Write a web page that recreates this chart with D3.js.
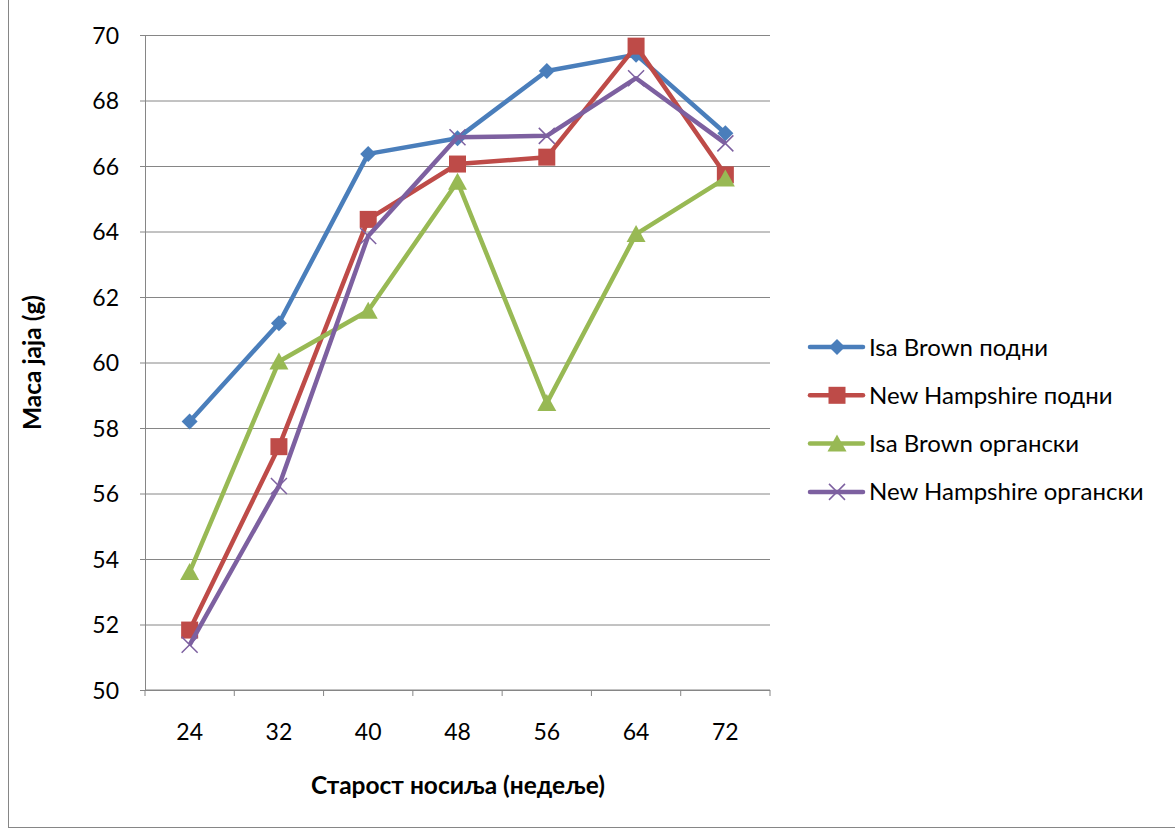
<!DOCTYPE html>
<html><head>
<meta charset="utf-8">
<script src="https://d3js.org/d3.v7.min.js"></script>
<style>
  body { margin: 0; background: #fff; }
  text { font-family: Lato, "Open Sans", sans-serif; fill: #000; }
  .gridlines line { stroke: #868686; }
  .gridlines .domain { stroke: none; }
  .axis path, .axis line { stroke: #868686; }
</style>
</head>
<body>
<svg id="svg1" width="1175" height="828"></svg>
<script>
// data
const weeks = ["24", "32", "40", "48", "56", "64", "72"];
const seriesNames = ["Isa Brown подни", "New Hampshire подни", "Isa Brown органски", "New Hampshire органски"];
const isaFloor = [58.2, 61.2, 66.37, 66.85, 68.9, 69.4, 67.0];
const nhFloor = [51.83, 57.43, 64.37, 66.06, 66.27, 69.66, 65.73];
const isaOrganic = [53.6, 60.03, 61.58, 65.52, 58.76, 63.92, 65.62];
const nhOrganic = [51.38, 56.23, 63.86, 66.88, 66.92, 68.68, 66.69];
const yTicks = [50, 52, 54, 56, 58, 60, 62, 64, 66, 68, 70];
const colors = ["#4A7EBB", "#BE4B48", "#98B954", "#7D60A0"];
const markers = ["diamond", "square", "triangle", "cross"];

let svg1 = d3.select("svg#svg1");
const margins = {top: 35, left: 145, right: 405, bottom: 138};
const chWidth = 1175 - margins.left - margins.right;
const chHeight = 828 - margins.top - margins.bottom;

// outer frame
svg1.append("rect").attr("x", 8.5).attr("y", -2).attr("width", 1180).attr("height", 829.5)
    .attr("fill", "none").attr("stroke", "#868686");

let xScale = d3.scaleBand().domain(weeks).range([0, chWidth]);
let yScale = d3.scaleLinear().domain([50, 70]).range([chHeight, 0]);

let annotations = svg1.append("g");

let leftGrid = d3.axisLeft(yScale).tickValues(yTicks).tickSize(-chWidth).tickFormat("");
annotations.append("g").attr("class", "gridlines")
    .attr("transform", `translate(${margins.left},${margins.top})`)
    .call(leftGrid);

let leftAxis = d3.axisLeft(yScale).tickValues(yTicks).tickSize(5).tickPadding(21);
annotations.append("g").attr("class", "y axis")
    .attr("transform", `translate(${margins.left},${margins.top})`)
    .call(leftAxis)
    .call(g => g.selectAll("text").style("font-size", "23px").style("font-family", "Lato").attr("dy", "0.36em"));

// x axis: ticks sit on band edges
let bottomAxis = d3.axisBottom(xScale).tickSize(0);
let xg = annotations.append("g").attr("class", "x axis")
    .attr("transform", `translate(${margins.left},${margins.top + chHeight})`)
    .call(bottomAxis)
    .call(g => g.selectAll("text").style("font-size", "23px").style("font-family", "Lato")
                 .attr("dy", null).attr("y", 50));
xg.select(".domain").attr("d", `M0,0H${chWidth}`);
xg.selectAll("line.edge").data(d3.range(weeks.length + 1)).join("line").attr("class", "edge")
    .attr("x1", i => i * xScale.step()).attr("x2", i => i * xScale.step())
    .attr("y1", 0).attr("y2", 6).attr("stroke", "#868686");

// axis titles
svg1.append("text")
    .attr("transform", `translate(41,${margins.top + chHeight / 2}) rotate(-90)`)
    .attr("text-anchor", "middle").style("font-weight", "bold").style("font-size", "24.5px")
    .text("Маса jaja (g)");
svg1.append("text")
    .attr("x", margins.left + chWidth / 2 + 0.5).attr("y", 794)
    .attr("text-anchor", "middle").style("font-weight", "bold").style("font-size", "24.5px")
    .text("Старост носиља (недеље)");

const allSeries = [isaFloor, nhFloor, isaOrganic, nhOrganic];

let chartArea = svg1.append("g").attr("transform", `translate(${margins.left},${margins.top})`);
let lineGen = d3.line()
    .x((d, i) => xScale(weeks[i]) + xScale.bandwidth() / 2)
    .y(d => yScale(d));

function drawMarker(sel, kind, color) {
  if (kind === "diamond") {
    sel.append("path").attr("d", "M0,-8L8,0L0,8L-8,0Z").attr("fill", color);
  } else if (kind === "square") {
    sel.append("rect").attr("x", -8.5).attr("y", -8.5).attr("width", 17).attr("height", 17).attr("fill", color);
  } else if (kind === "triangle") {
    sel.append("path").attr("d", "M0,-9L9.5,8L-9.5,8Z").attr("fill", color);
  } else {
    sel.append("path").attr("d", "M-8,-8L8,8M-8,8L8,-8").attr("stroke", color).attr("stroke-width", 1.5).attr("fill", "none");
  }
}

let seriesG = chartArea.selectAll("g.series").data(allSeries).join("g").attr("class", "series");
seriesG.append("path")
    .attr("fill", "none")
    .attr("stroke", (d, i) => colors[i])
    .attr("stroke-width", 4.5)
    .attr("stroke-linejoin", "round")
    .attr("d", d => lineGen(d));
seriesG.each(function(vals, si) {
  d3.select(this).selectAll("g.pt").data(vals).join("g").attr("class", "pt")
    .attr("transform", (d, i) => `translate(${xScale(weeks[i]) + xScale.bandwidth() / 2},${yScale(d)})`)
    .each(function() { drawMarker(d3.select(this), markers[si], colors[si]); });
});

// legend
let legend = svg1.append("g").attr("transform", "translate(810,347)");
let items = legend.selectAll("g").data(seriesNames).join("g")
    .attr("transform", (d, i) => `translate(0,${i * 48.3})`);
items.append("line").attr("x1", 0).attr("x2", 53).attr("y1", 0).attr("y2", 0)
    .attr("stroke", (d, i) => colors[i]).attr("stroke-width", 4.5).attr("stroke-linecap", "round");
items.each(function(d, i) {
  let m = d3.select(this).append("g").attr("transform", "translate(27,0)");
  drawMarker(m, markers[i], colors[i]);
});
items.append("text").attr("x", 59).attr("y", 8.5).style("font-size", "24px").text(d => d);
</script>
</body></html>
